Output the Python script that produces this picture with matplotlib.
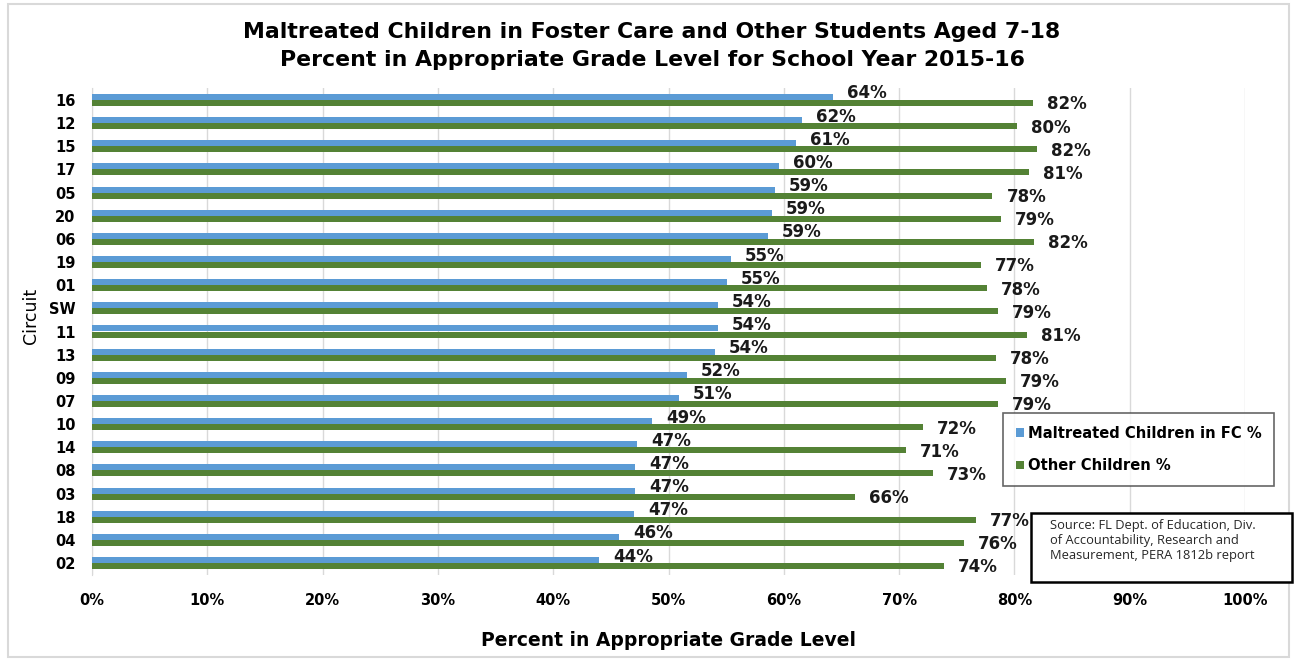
import numpy as np
import matplotlib
matplotlib.use('Agg')
import matplotlib.pyplot as plt
from matplotlib.patches import Rectangle
from matplotlib.ticker import PercentFormatter

# values (percent), top row first
circuits = ['16', '12', '15', '17', '05', '20', '06', '19', '01', 'SW', '11',
            '13', '09', '07', '10', '14', '08', '03', '18', '04', '02']
maltreated = [64.3, 61.6, 61.1, 59.6, 59.2, 59.0, 58.6, 55.4, 55.1, 54.3, 54.3,
              54.0, 51.6, 50.9, 48.6, 47.3, 47.1, 47.1, 47.0, 45.7, 44.0]
other = [81.6, 80.2, 82.0, 81.3, 78.1, 78.8, 81.7, 77.1, 77.6, 78.6, 81.1,
         78.4, 79.3, 78.6, 72.1, 70.6, 72.9, 66.2, 76.7, 75.6, 73.9]

BLUE = '#5B9BD5'
GREEN = '#548235'

plt.rcParams['font.family'] = ['DejaVu Sans']

fig = plt.figure(figsize=(12.94, 6.61), dpi=100)
W, H = 1294, 661
ax = fig.add_axes([92 / W, 1 - 574.6 / H, 1153 / W, (574.6 - 88.4) / H])

y = np.arange(len(circuits))
bh = 0.26
b1 = ax.barh(y - bh / 2, maltreated, height=bh, color=BLUE, label='Maltreated Children in FC %', zorder=3)
b2 = ax.barh(y + bh / 2, other, height=bh, color=GREEN, label='Other Children %', zorder=3)

for rect, v in zip(b1, maltreated):
    ax.annotate(f'{v:.0f}%', (rect.get_width(), rect.get_y() + rect.get_height() / 2),
                xytext=(10, 2.5), textcoords='offset points', va='center', ha='left',
                fontsize=12, fontweight='bold', color='#1a1a1a', zorder=5)
for rect, v in zip(b2, other):
    ax.annotate(f'{v:.0f}%', (rect.get_width(), rect.get_y() + rect.get_height() / 2),
                xytext=(10, -1), textcoords='offset points', va='center', ha='left',
                fontsize=12, fontweight='bold', color='#1a1a1a', zorder=5)

ax.set_xlim(0, 100)
ax.set_ylim(len(circuits) - 0.5, -0.5)
ax.set_xticks(np.arange(0, 101, 10))
ax.xaxis.set_major_formatter(PercentFormatter(decimals=0))
ax.set_yticks(y)
ax.set_yticklabels(circuits)
ax.tick_params(axis='both', length=0, labelsize=10.5)
ax.tick_params(axis='x', pad=13)
ax.tick_params(axis='y', pad=12)
for lbl in ax.get_xticklabels() + ax.get_yticklabels():
    lbl.set_fontweight('bold')
ax.grid(axis='x', color='#D9D9D9', linewidth=1, zorder=0)
for s in ['top', 'right', 'bottom']:
    ax.spines[s].set_visible(False)
ax.spines['left'].set_color('#D9D9D9')

ax.set_xlabel('Percent in Appropriate Grade Level', fontsize=13.5, fontweight='bold', labelpad=17)
fig.text(31 / W, 1 - 316 / H, 'Circuit', rotation=90, fontsize=12.5, ha='center', va='center')

fig.text(652 / W, 1 - 32 / H, 'Maltreated Children in Foster Care and Other Students Aged 7-18',
         ha='center', va='center', fontsize=15.8, fontweight='bold')
fig.text(652 / W, 1 - 60 / H, 'Percent in Appropriate Grade Level for School Year 2015-16',
         ha='center', va='center', fontsize=15.8, fontweight='bold')

leg = fig.legend(handles=[b1, b2], loc='upper left', bbox_to_anchor=(1003 / W, 1 - 413 / H),
                 frameon=True, fancybox=False, prop={'weight': 'bold', 'size': 10.6},
                 handlelength=0.55, handleheight=0.55, handletextpad=0.3,
                 borderpad=0.85, labelspacing=1.2, borderaxespad=0)
leg.get_frame().set_edgecolor('#404040')
leg.get_frame().set_linewidth(1.2)

# source note box
fig.patches.append(Rectangle((1031 / W, 1 - 582 / H), (1292 - 1031) / W, (582 - 513) / H,
                             transform=fig.transFigure, facecolor='white',
                             edgecolor='black', linewidth=1.8, zorder=6))
fig.text(1050 / W, 1 - 519 / H,
         'Source: FL Dept. of Education, Div.\nof Accountability, Research and\nMeasurement, PERA 1812b report',
         ha='left', va='top', fontsize=9.3, linespacing=1.2, zorder=7, color='#262626',
         family='Open Sans')

# outer chart border
fig.patches.append(Rectangle((8 / W, 4 / H), (1289 - 8) / W, (657 - 4) / H,
                             transform=fig.transFigure, facecolor='none',
                             edgecolor='#D9D9D9', linewidth=1.5))

fig.savefig('out.png', dpi=100)
